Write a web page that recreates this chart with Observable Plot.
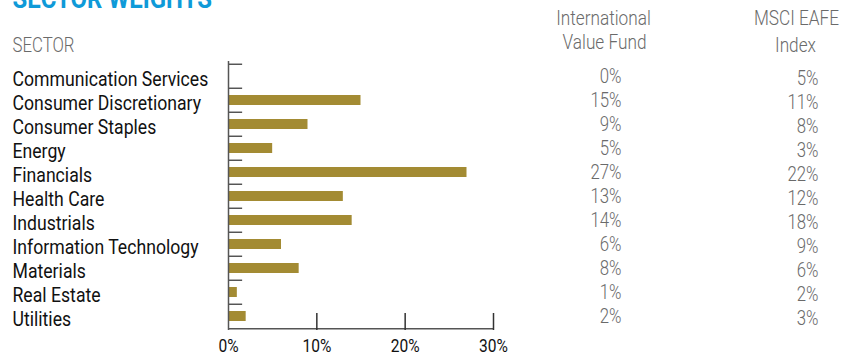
<!DOCTYPE html>
<html>
<head>
<meta charset="utf-8">
<script src="https://cdn.jsdelivr.net/npm/d3@7"></script>
<script src="https://cdn.jsdelivr.net/npm/@observablehq/plot@0.6"></script>
<style>
  html, body { margin: 0; padding: 0; background: #fff; }
  #chart svg { overflow: visible; }
</style>
</head>
<body>
<div id="chart"></div>
<script>
const sectors = ["Communication Services","Consumer Discretionary","Consumer Staples","Energy","Financials","Health Care","Industrials","Information Technology","Materials","Real Estate","Utilities"];
const fundValues = [0, 15, 9, 5, 27, 13, 14, 6, 8, 1, 2];
const indexValues = [5, 11, 8, 3, 22, 12, 18, 9, 6, 2, 3];
const xTicks = [0, 10, 20, 30];
const title = "SECTOR WEIGHTS";
const sectorHeader = "SECTOR";
const fundHeader = ["International", "Value Fund"];
const indexHeader = ["MSCI EAFE", "Index"];

const data = sectors.map((s, i) => ({sector: s, fund: fundValues[i], index: indexValues[i]}));

const W = 845, H = 357;
const mL = 228, mR = 352, mT = 61, mB = 27;
const step = (H - mT - mB) / sectors.length;
const font = "Roboto, 'Liberation Sans', sans-serif";
const gray = "#6a6a6a";
const axisColor = "#555";
const condense = 0.84;

const chart = Plot.plot({
  width: W,
  height: H,
  marginLeft: mL,
  marginRight: mR,
  marginTop: mT,
  marginBottom: mB,
  style: {fontFamily: font, background: "#fff"},
  x: {domain: [0, 30], axis: null},
  y: {domain: sectors, paddingInner: 0.59, paddingOuter: 0.295, axis: null},
  marks: [
    Plot.barX(data, {x: "fund", y: "sector", fill: "#a38b33"}),
    // category separators
    Plot.ruleY(sectors, {y: d => d, x1: 0, x2: 1.6, dy: -step / 2, stroke: axisColor, strokeWidth: 1.5}),
    // bottom axis line
    Plot.ruleY([sectors[sectors.length - 1]], {y: d => d, x1: 0, x2: 30, dy: step / 2, stroke: axisColor, strokeWidth: 1.5}),
    // left axis line
    Plot.ruleX([0], {stroke: axisColor, strokeWidth: 1.5}),
    // x ticks
    Plot.ruleX(xTicks.slice(1), {insetTop: (H - mT - mB) - 17, stroke: "#333", strokeWidth: 1.5}),
    Plot.axisX({ticks: xTicks, tickSize: 0, tickPadding: 8, label: null, tickFormat: d => d + "%", fontSize: 18.5, fill: "#111"}),
    // sector labels
    Plot.text(data, {y: "sector", text: "sector", frameAnchor: "left", textAnchor: "start", dx: 12 - mL, dy: 2.5, fontSize: 21, fill: "#111"}),
    // fund values
    Plot.text(data, {y: "sector", text: d => d.fund + "%", frameAnchor: "right", textAnchor: "end", dx: 128, dy: 0, fontSize: 20, fontWeight: 300, fill: gray}),
    // index values
    Plot.text(data, {y: "sector", text: d => d.index + "%", frameAnchor: "right", textAnchor: "end", dx: 325, dy: 2, fontSize: 20, fontWeight: 300, fill: gray}),
    // headers
    Plot.text([title], {frameAnchor: "top-left", textAnchor: "start", lineAnchor: "bottom", dx: 12 - mL, dy: 7 - mT, fontSize: 28.5, fontWeight: "bold", fill: "#0f9ad8"}),
    Plot.text([sectorHeader], {frameAnchor: "top-left", textAnchor: "start", lineAnchor: "bottom", dx: 12 - mL, dy: 51 - mT, fontSize: 20, fontWeight: 300, fill: gray}),
    Plot.text([fundHeader[0]], {frameAnchor: "top-right", textAnchor: "middle", lineAnchor: "bottom", dx: 603 - (W - mR), dy: 24 - mT, fontSize: 20.5, fontWeight: 300, fill: gray}),
    Plot.text([fundHeader[1]], {frameAnchor: "top-right", textAnchor: "middle", lineAnchor: "bottom", dx: 604 - (W - mR), dy: 48 - mT, fontSize: 20.5, fontWeight: 300, fill: gray}),
    Plot.text([indexHeader[0]], {frameAnchor: "top-right", textAnchor: "middle", lineAnchor: "bottom", dx: 796 - (W - mR), dy: 24 - mT, fontSize: 20.5, fontWeight: 300, fill: gray}),
    Plot.text([indexHeader[1]], {frameAnchor: "top-right", textAnchor: "middle", lineAnchor: "bottom", dx: 795 - (W - mR), dy: 51 - mT, fontSize: 20.5, fontWeight: 300, fill: gray})
  ]
});
document.getElementById("chart").appendChild(chart);
// condensed look: narrow each text horizontally (the reference uses a condensed face)
chart.querySelectorAll("text").forEach(t => {
  const len = t.getComputedTextLength();
  if (len > 0) {
    t.setAttribute("textLength", (len * condense).toFixed(2));
    t.setAttribute("lengthAdjust", "spacingAndGlyphs");
  }
});
</script>
</body>
</html>
